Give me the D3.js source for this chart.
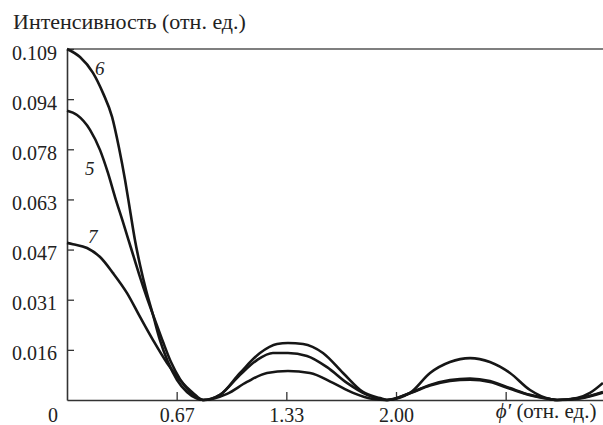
<!DOCTYPE html>
<html>
<head>
<meta charset="utf-8">
<script src="https://cdn.jsdelivr.net/npm/d3@7"></script>
<style>
  body { margin: 0; background: #fff; }
  #chart text { font-family: "Liberation Serif", Tinos, "Times New Roman", Times, "DejaVu Serif", serif; font-size: 20px; fill: #222; }
  #chart text.caption { font-size: 22px; }
  #chart text.x-caption { font-size: 21px; }
</style>
</head>
<body>
<svg id="chart" width="603" height="425"></svg>
<script>
// values: [phi', intensity]
const curve6 = [
  [0, 0.1090], [0.079, 0.1065], [0.158, 0.1016], [0.219, 0.0953], [0.274, 0.0879],
  [0.316, 0.0783], [0.353, 0.0683], [0.383, 0.0590], [0.413, 0.0497], [0.444, 0.0419],
  [0.480, 0.0342], [0.523, 0.0264], [0.565, 0.0186], [0.614, 0.0118], [0.669, 0.0062],
  [0.729, 0.0025], [0.784, 0.0006], [0.827, 0],
  [0.930, 0.0016], [1.052, 0.0084], [1.173, 0.0146], [1.277, 0.0174], [1.343, 0.0177],
  [1.435, 0.0174], [1.556, 0.0146], [1.678, 0.0084], [1.799, 0.0025], [1.903, 0.0006], [1.945, 0],
  [2.085, 0.0022], [2.207, 0.0084], [2.328, 0.0118], [2.450, 0.0130], [2.571, 0.0118],
  [2.693, 0.0084], [2.815, 0.0031], [2.936, 0.0003], [2.979, 0],
  [3.100, 0.0006], [3.179, 0.0022], [3.258, 0.0053]
];

const curve5 = [
  [0, 0.0898], [0.061, 0.0885], [0.140, 0.0839], [0.201, 0.0776], [0.249, 0.0705],
  [0.292, 0.0630], [0.340, 0.0553], [0.389, 0.0472], [0.438, 0.0391], [0.486, 0.0317],
  [0.535, 0.0248], [0.584, 0.0180], [0.632, 0.0118], [0.687, 0.0065], [0.742, 0.0028],
  [0.790, 0.0006], [0.827, 0],
  [0.930, 0.0016], [1.052, 0.0078], [1.155, 0.0124], [1.252, 0.0146], [1.343, 0.0146],
  [1.459, 0.0137], [1.581, 0.0102], [1.702, 0.0053], [1.824, 0.0016], [1.945, 0],
  [2.085, 0.0022], [2.207, 0.0047], [2.328, 0.0062], [2.450, 0.0067], [2.571, 0.0059],
  [2.693, 0.0037], [2.815, 0.0016], [2.936, 0.0003], [2.979, 0],
  [3.119, 0.0006], [3.258, 0.0025]
];

const curve7 = [
  [0, 0.0488], [0.036, 0.0484], [0.122, 0.0472], [0.201, 0.0444], [0.280, 0.0394],
  [0.365, 0.0332], [0.444, 0.0258], [0.523, 0.0186], [0.608, 0.0115], [0.687, 0.0062],
  [0.766, 0.0022], [0.827, 0],
  [0.973, 0.0019], [1.094, 0.0056], [1.216, 0.0084], [1.343, 0.0090], [1.477, 0.0084],
  [1.617, 0.0053], [1.739, 0.0022], [1.860, 0.0003], [1.945, 0],
  [2.085, 0.0021], [2.207, 0.0045], [2.328, 0.0059], [2.450, 0.0063], [2.571, 0.0056],
  [2.693, 0.0035], [2.815, 0.0015], [2.936, 0.0003], [2.979, 0],
  [3.119, 0.0005], [3.258, 0.0023]
];

const curveNames = ["6", "5", "7"];
const curveLabelAt = [[0.170, 0.1009], [0.109, 0.0699], [0.128, 0.0488]];

const yMax = 0.109;
const yTickLabels = ["0.016", "0.031", "0.047", "0.063", "0.078", "0.094", "0.109"];
const xTickValues = [2 / 3, 4 / 3, 2, 8 / 3];
const xTickLabels = ["0.67", "1.33", "2.00", ""];

const svg = d3.select("#chart");

const x = d3.scaleLinear().domain([0, 3.3]).range([67, 67 + 3.3 * 164.5]);
const y = d3.scaleLinear().domain([0, yMax]).range([400, 49]);

// ticks are evenly spaced, labels are rounded
const yTickValues = yTickLabels.map((d, i) => (i + 1) * yMax / yTickLabels.length);

// top frame line
svg.append("line")
  .attr("x1", x(0)).attr("x2", 603)
  .attr("y1", y(yMax)).attr("y2", y(yMax))
  .attr("stroke", "#555").attr("stroke-width", 1.6);

const yAxisG = svg.append("g")
  .attr("transform", `translate(${x(0)},0)`)
  .call(d3.axisLeft(y)
    .tickValues(yTickValues)
    .tickFormat((d, i) => yTickLabels[i])
    .tickSize(-7)
    .tickSizeOuter(0)
    .tickPadding(10));

const xAxisG = svg.append("g")
  .attr("transform", `translate(0,${y(0)})`)
  .call(d3.axisBottom(x)
    .tickValues(xTickValues)
    .tickFormat((d, i) => xTickLabels[i])
    .tickSize(-8)
    .tickSizeOuter(0)
    .tickPadding(8));

[yAxisG, xAxisG].forEach(g => {
  g.attr("font-family", null).attr("font-size", null);
  g.select(".domain").attr("stroke", "#333").attr("stroke-width", 1.6);
  g.selectAll(".tick line").attr("stroke", "#333").attr("stroke-width", 1.3);
});
yAxisG.selectAll(".tick text").attr("dy", "0.5em");

// zero label sits left of the axis
svg.append("text")
  .attr("x", x(0) - 14).attr("y", 422)
  .attr("text-anchor", "middle")
  .text("0");

const xTitle = svg.append("text")
  .attr("class", "x-caption")
  .attr("x", x(8 / 3) - 10).attr("y", 418);
xTitle.append("tspan").attr("font-style", "italic").text("\u03D5\u2032");
xTitle.append("tspan").text(" (отн. ед.)");

svg.append("text")
  .attr("class", "caption")
  .attr("x", 13).attr("y", 29)
  .text("Интенсивность (отн. ед.)");

const line = d3.line()
  .x(d => x(d[0]))
  .y(d => y(d[1]))
  .curve(d3.curveMonotoneX);

svg.selectAll(".curve")
  .data([curve6, curve5, curve7])
  .join("path")
  .attr("class", "curve")
  .attr("d", line)
  .attr("fill", "none")
  .attr("stroke", "#161616")
  .attr("stroke-width", 2.6);

svg.selectAll(".curve-label")
  .data(curveNames)
  .join("text")
  .attr("class", "curve-label")
  .attr("x", (d, i) => x(curveLabelAt[i][0]))
  .attr("y", (d, i) => y(curveLabelAt[i][1]))
  .attr("font-style", "italic")
  .style("font-size", "19px")
  .text(d => d);
</script>
</body>
</html>
